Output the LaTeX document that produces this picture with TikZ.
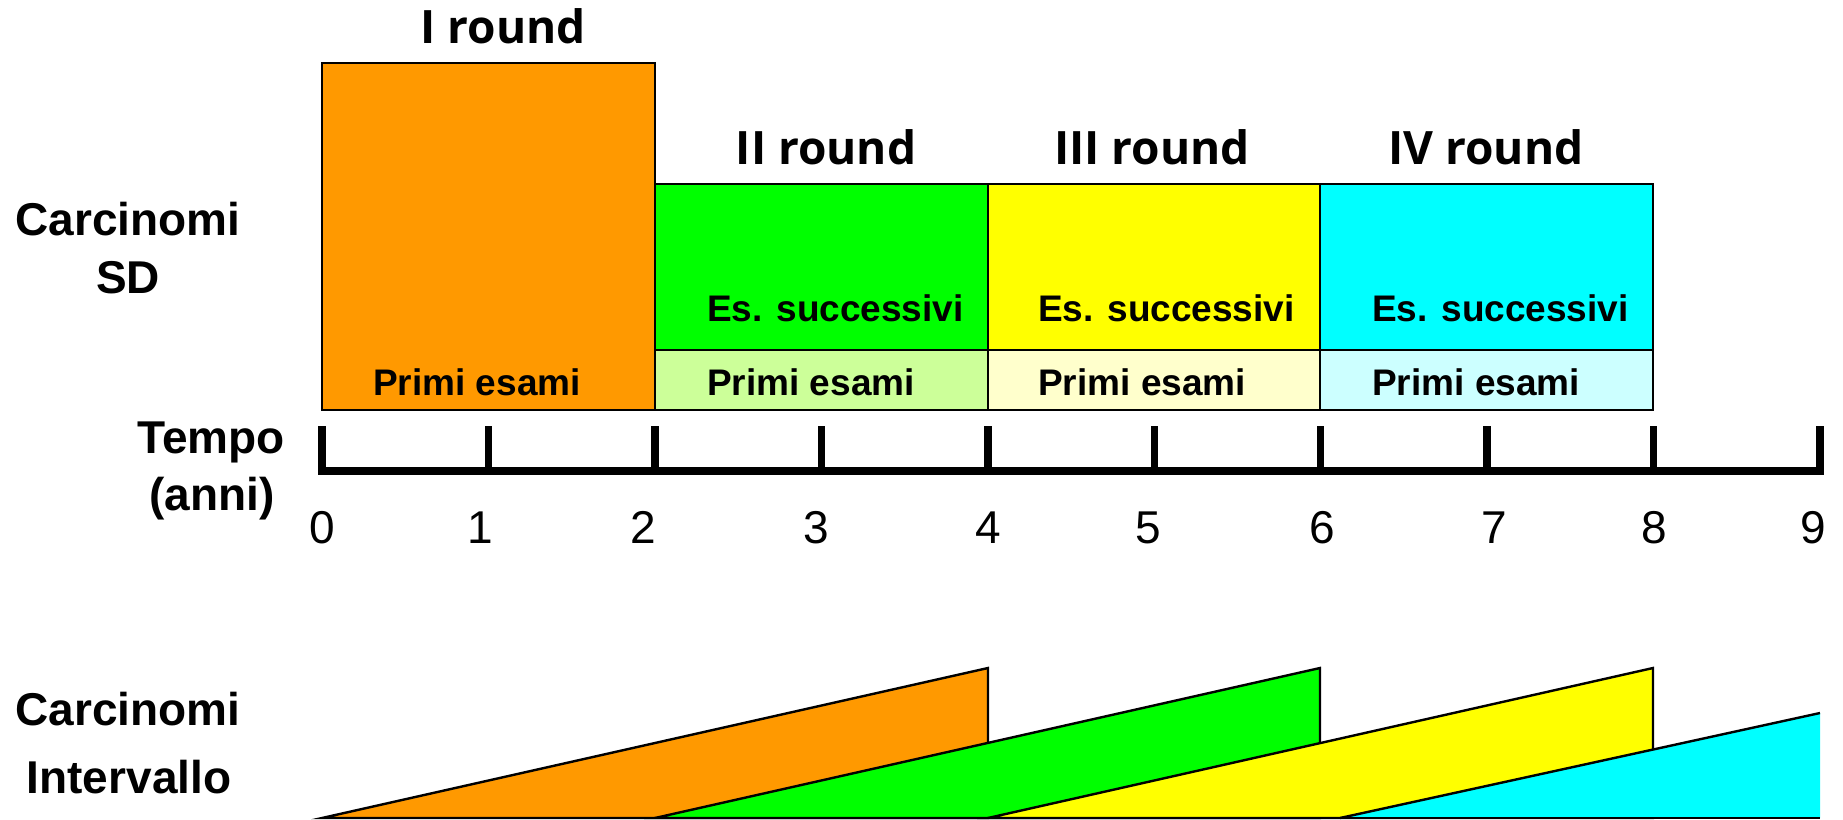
\documentclass[tikz,border=0pt]{standalone}
\usepackage{fontspec}
\setmainfont{Liberation Sans}
\newfontfamily\headfont{Open Sans}
\definecolor{rOrange}{HTML}{FF9900}
\definecolor{rGreen}{HTML}{00FF00}
\definecolor{rGreenL}{HTML}{CCFF99}
\definecolor{rYellow}{HTML}{FFFF00}
\definecolor{rYellowL}{HTML}{FFFFCC}
\definecolor{rCyan}{HTML}{00FFFF}
\definecolor{rCyanL}{HTML}{CCFFFF}
\begin{document}
\begin{tikzpicture}[x=1pt,y=-1pt,
  box/.style={draw=black,line width=2.2pt},
  wedge/.style={draw=black,line width=2.4pt,line join=miter},
  lbl/.style={font=\bfseries\fontsize{37}{44}\selectfont,anchor=base west,inner sep=0pt},
  head/.style={font=\headfont\bfseries\fontsize{46}{55}\selectfont,anchor=base,inner sep=0pt},
  side/.style={font=\bfseries\fontsize{46}{55}\selectfont,anchor=base,inner sep=0pt},
  num/.style={font=\fontsize{46}{55}\selectfont,anchor=base,inner sep=0pt},
  axis/.style={line width=7.5pt}]
\useasboundingbox (0,0) rectangle (1843,819);

% screening rounds (SD cancers)
\draw[box,fill=rOrange] (322,63) rectangle (655,410);
\draw[box,fill=rGreen]   (655,184) rectangle (988,350);
\draw[box,fill=rGreenL]  (655,350) rectangle (988,410);
\draw[box,fill=rYellow]  (988,184) rectangle (1320,350);
\draw[box,fill=rYellowL] (988,350) rectangle (1320,410);
\draw[box,fill=rCyan]    (1320,184) rectangle (1653,350);
\draw[box,fill=rCyanL]   (1320,350) rectangle (1653,410);

\node[head] (h1) at (503,43)   {I round};
\node[head] (h2) at (826,164)  {II round};
\node[head] (h3) at (1152,164) {III round};
\node[head] (h4) at (1486,164) {IV round};

\node[lbl] (p1) at (373,395)  {Primi esami};
\node[lbl] (s2) at (707,321)  {Es. successivi};
\node[lbl] (p2) at (707,395)  {Primi esami};
\node[lbl] (s3) at (1038,321) {Es. successivi};
\node[lbl] (p3) at (1038,395) {Primi esami};
\node[lbl] (s4) at (1372,321) {Es. successivi};
\node[lbl] (p4) at (1372,395) {Primi esami};

% side labels
\node[side] (c1) at (128,235) {Carcinomi};
\node[side] (c2) at (128,293) {SD};
\node[side] (t1) at (211,453) {Tempo};
\node[side] (t2) at (212,510) {(anni)};
\node[side] (c3) at (128,725) {Carcinomi};
\node[side] (c4) at (129,793) {Intervallo};

% time axis
\draw[axis,line cap=rect] (322,471) -- (1820,471);
\foreach \i in {0,...,9}{
  \draw[axis] (322+166.45*\i,471) -- (322+166.45*\i,426);
}
\foreach \n/\x in {0/322,1/480,2/643,3/816,4/988,5/1148,6/1322,7/1494,8/1654,9/1813}{
  \node[num] (n\n) at (\x,543) {\n};
}

% interval cancers
\draw[wedge,fill=rOrange] (322,818) -- (988,668) -- (988,818) -- cycle;
\draw[wedge,fill=rGreen]  (655,818) -- (1320,668) -- (1320,818) -- cycle;
\draw[wedge,fill=rYellow] (988,818) -- (1653,668) -- (1653,818) -- cycle;
\fill[rCyan] (1340,818) -- (1820,713) -- (1820,818) -- cycle;
\draw[wedge] (1340,818) -- (1820,713);
\draw[wedge] (1340,818) -- (1820,818);
\end{tikzpicture}
\end{document}
